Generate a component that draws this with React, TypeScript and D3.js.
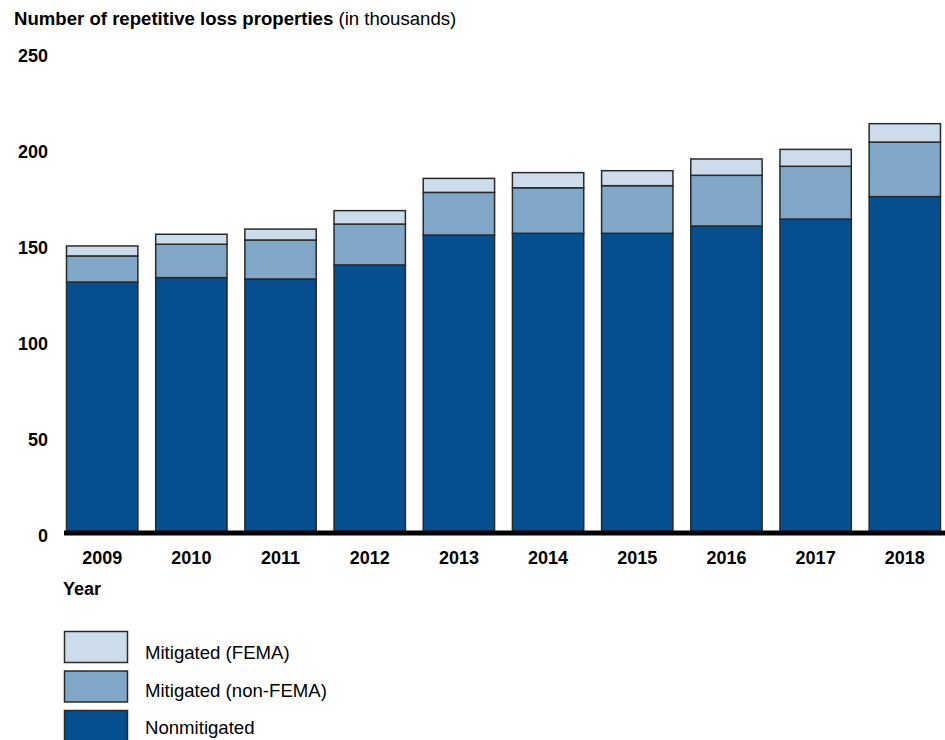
import React from "react";
import * as d3 from "d3";

const years = ["2009", "2010", "2011", "2012", "2013", "2014", "2015", "2016", "2017", "2018"];
const nonmitigated = [130.7, 133.0, 132.3, 139.6, 155.2, 156.1, 156.1, 159.9, 163.5, 175.2];
const mitigatedNonFema = [13.6, 17.4, 20.3, 21.3, 22.2, 23.7, 24.8, 26.4, 27.5, 28.4];
const mitigatedFema = [5.2, 5.2, 5.7, 7.0, 7.3, 7.9, 7.8, 8.5, 8.8, 9.6];
const yTicks = [0, 50, 100, 150, 200, 250];
const seriesKeys = ["nonmitigated", "mitigatedNonFema", "mitigatedFema"];
const seriesLabels = ["Nonmitigated", "Mitigated (non-FEMA)", "Mitigated (FEMA)"];
const colors = ["#054f8f", "#80a7c8", "#cddcea"];

const W = 945;
const H = 740;
const FONT = "Arial, 'Liberation Sans', Helvetica, sans-serif";

export default function App() {
  const rows = years.map((y, i) => ({
    year: y,
    nonmitigated: nonmitigated[i],
    mitigatedNonFema: mitigatedNonFema[i],
    mitigatedFema: mitigatedFema[i],
  }));
  const stack = d3.stack<any>().keys(seriesKeys);
  const series = stack(rows);

  const x = d3.scaleBand<string>().domain(years).range([57.6, 949.4]).paddingInner(0.2).paddingOuter(0.1);
  const y = d3.scaleLinear().domain([0, 250]).range([533, 53]);

  const legendOrder = [2, 1, 0];

  return (
    <svg width={W} height={H} style={{ position: "absolute", left: 0, top: 0, background: "#fff" }} fontFamily={FONT}>
      <text x={14} y={25} fontSize={18.6} fill="#000">
        <tspan fontWeight="bold">Number of repetitive loss properties</tspan>
        <tspan> (in thousands)</tspan>
      </text>
      {yTicks.map((t) => (
        <text key={t} x={48} y={y(t) + 2.5} dy="0.35em" textAnchor="end" fontSize={18} fontWeight="bold" fill="#000">
          {t}
        </text>
      ))}
      {series.map((s, si) => (
        <g key={si}>
          {s.map((d, i) => (
            <rect
              key={i}
              x={x(years[i])!}
              y={y(d[1])}
              width={x.bandwidth()}
              height={y(d[0]) - y(d[1])}
              fill={colors[si]}
              stroke="#2a2a2a"
              strokeWidth={1.5}
            />
          ))}
        </g>
      ))}
      <line x1={64} x2={W} y1={y(0)} y2={y(0)} stroke="#000" strokeWidth={5} />
      {years.map((yr) => (
        <text key={yr} x={x(yr)! + x.bandwidth() / 2} y={564} textAnchor="middle" fontSize={18} fontWeight="bold" fill="#000">
          {yr}
        </text>
      ))}
      <text x={63} y={595} fontSize={18} fontWeight="bold" fill="#000">Year</text>
      {legendOrder.map((si, k) => (
        <g key={si}>
          <rect x={64.5} y={631.5 + k * 39.5} width={63} height={31} fill={colors[si]} stroke="#2a2a2a" strokeWidth={1.5} />
          <text x={145} y={659 + k * 37.5} fontSize={18.6} fill="#000">{seriesLabels[si]}</text>
        </g>
      ))}
    </svg>
  );
}
